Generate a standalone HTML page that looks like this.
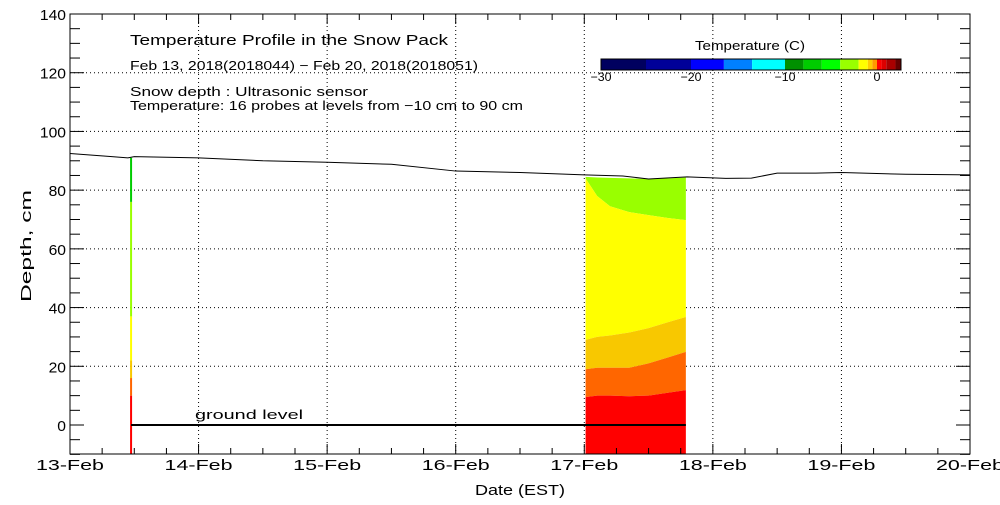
<!DOCTYPE html>
<html><head><meta charset="utf-8"><style>
body{margin:0;background:#fff}
svg text{font-family:"Liberation Sans",sans-serif;fill:#000}
</style></head><body>
<svg id="c" width="1000" height="500" viewBox="0 0 1000 500"></svg>
<script>
// ---- data ----
const xTickLabels=["13-Feb","14-Feb","15-Feb","16-Feb","17-Feb","18-Feb","19-Feb","20-Feb"];
const yTicks=[0,20,40,60,80,100,120,140];
const snowDays=[0,0.3,0.45,0.5,1.0,1.5,2.0,2.5,3.0,3.5,4.0,4.3,4.5,4.8,5.1,5.3,5.5,5.8,6.0,6.5,7.0];
const snowDepth=[92.5,91.5,91,91.4,91,90,89.5,88.8,86.5,86,85.2,84.8,83.8,84.5,84,84.1,85.8,85.8,86,85.4,85.2];
const probeDay=0.475;
const probeBands=[[-10,10,"#ff0000"],[10,16,"#ff6600"],[16,22,"#f8c800"],[22,37,"#ffff00"],[37,76,"#99ff00"],[76,91,"#00cc00"]];
const blockDays=[4.01,4.1,4.2,4.35,4.5,4.65,4.79];
const topDepth=[84.5,84.3,84.2,84,83.8,84,84.3];
const bGreen=[84,78,74.5,72.5,71.5,70.5,69.8];
const bYellow=[29,30,30.5,31.5,33,35,36.8];
const bOrange=[19,19.5,19.5,19.5,21,23,24.9];
const bRed=[9.5,10,10,9.8,10,11,11.9];
const cbEdges=[-30,-25,-20,-16.5,-13.5,-10,-8,-6,-4,-2,-1,-0.5,0,0.5,1,2,2.6];
const cbColors=["#00005f","#000099","#0000ff","#0080ff","#00ffff","#009000","#00cc00","#00ff00","#99ff00","#ffff00","#ffcc00","#ff9900","#ff0000","#dd0000","#aa0000","#660000"];
const cbTicks=[-30,-20,-10,0];
// ---- scales ----
const L=70,R=970,T=14,B=454;
const X=d=>L+d*(R-L)/7;
const Y=v=>425-v*(425-T)/140;
const CB=v=>{const a=[-30,-20,-10,0,2.6],p=[601,691,785,877,901];for(let i=0;i<4;i++)if(v<=a[i+1])return p[i]+(v-a[i])/(a[i+1]-a[i])*(p[i+1]-p[i]);return 901;};
const svg=document.getElementById('c');const NS="http://www.w3.org/2000/svg";
function mk(t,a,p){const e=document.createElementNS(NS,t);for(const k in a)e.setAttribute(k,a[k]);(p||svg).appendChild(e);return e;}
// grid
for(let i=1;i<7;i++){const g=mk('line',{x1:X(i),x2:X(i),y1:T,y2:B,stroke:'#000','stroke-dasharray':'1,3'});

}
yTicks.forEach(v=>{if(v>0&&v<140){const g=mk('line',{x1:L,x2:R,y1:Y(v),y2:Y(v),stroke:'#000','stroke-dasharray':'1,3'});

}});
// block
function band(lo,hi,col,name){let pts=blockDays.map((d,i)=>X(d)+','+Y(hi[i]));
for(let i=blockDays.length-1;i>=0;i--)pts.push(X(blockDays[i])+','+Y(lo?lo[i]:-10));
const p=mk('polygon',{points:pts.join(' '),fill:col});

}
band(bGreen,topDepth,'#99ff00','band-light-green');
band(bYellow,bGreen,'#ffff00','band-yellow');
band(bOrange,bYellow,'#f8c800','band-yellow-orange');
band(bRed,bOrange,'#ff6600','band-orange');
band(null,bRed,'#ff0000','band-red');
// probe line
probeBands.forEach(b=>{const r=mk('rect',{x:X(probeDay)-1,y:Y(b[1]),width:2,height:Y(b[0])-Y(b[1]),fill:b[2]});

});
// ground
const gl=mk('line',{x1:X(probeDay),x2:X(4.79),y1:Y(0),y2:Y(0),stroke:'#000','stroke-width':2});


function txt(x,y,fs,s,len,name,extra){const a={x:x,y:y,'font-size':fs};if(len){a.textLength=len;a.lengthAdjust='spacingAndGlyphs';}Object.assign(a,extra||{});const t=mk('text',a);t.textContent=s;return t;}
const gt=txt(195,419,13,'ground level',108);


// snow line
const sl=mk('polyline',{points:snowDays.map((d,i)=>X(d)+','+Y(snowDepth[i])).join(' '),fill:'none',stroke:'#000','stroke-width':1});


// frame
const fr=mk('rect',{x:L,y:T,width:R-L,height:B-T,fill:'none',stroke:'#000'});


// ticks
for(let i=0;i<=28;i++){const x=X(i/4),len=i%4?6:10;mk('line',{x1:x,x2:x,y1:B,y2:B-len,stroke:'#000'});mk('line',{x1:x,x2:x,y1:T,y2:T+len,stroke:'#000'});}
for(let v=-10;v<=140;v+=5){const len=v%20?10:14;mk('line',{x1:L,x2:L+len,y1:Y(v),y2:Y(v),stroke:'#000'});mk('line',{x1:R,x2:R-len,y1:Y(v),y2:Y(v),stroke:'#000'});}
xTickLabels.forEach((s,i)=>{const t=txt(X(i)-34,470,15,s,68);

});
yTicks.forEach(v=>{const w=String(v).length*8.7;const t=txt(66-w,Y(v)+6,15,v,w);

});
const xt=txt(475,495,15,'Date (EST)',90);


const yt=txt(-56,0,15,'Depth, cm',112,null,{transform:'translate(31,246) rotate(-90)'});


// titles
[[130,45,15,'Temperature Profile in the Snow Pack',318,'chart-title'],[130,70,13,'Feb 13, 2018(2018044) \u2212 Feb 20, 2018(2018051)',348,'date-range'],[130,96,13,'Snow depth : Ultrasonic sensor',238,'subtitle-sensor'],[130,110,13,'Temperature: 16 probes at levels from \u221210 cm to 90 cm',393,'subtitle-probes']].forEach(a=>{const t=txt(a[0],a[1],a[2],a[3],a[4]);

});
// colorbar
const ct=txt(695,50,13,'Temperature (C)',110);


cbColors.forEach((c,i)=>{const r=mk('rect',{x:CB(cbEdges[i]),y:59,width:CB(cbEdges[i+1])-CB(cbEdges[i]),height:11,fill:c});

});
mk('rect',{x:601,y:59,width:300,height:11,fill:'none',stroke:'#000'});
cbTicks.forEach(v=>{const s=v===0?'0':'\u2212'+(-v);const w=v===0?7:21;const t=txt(CB(v)-w/2,81,12,s,w);

});
</script>
</body></html>
